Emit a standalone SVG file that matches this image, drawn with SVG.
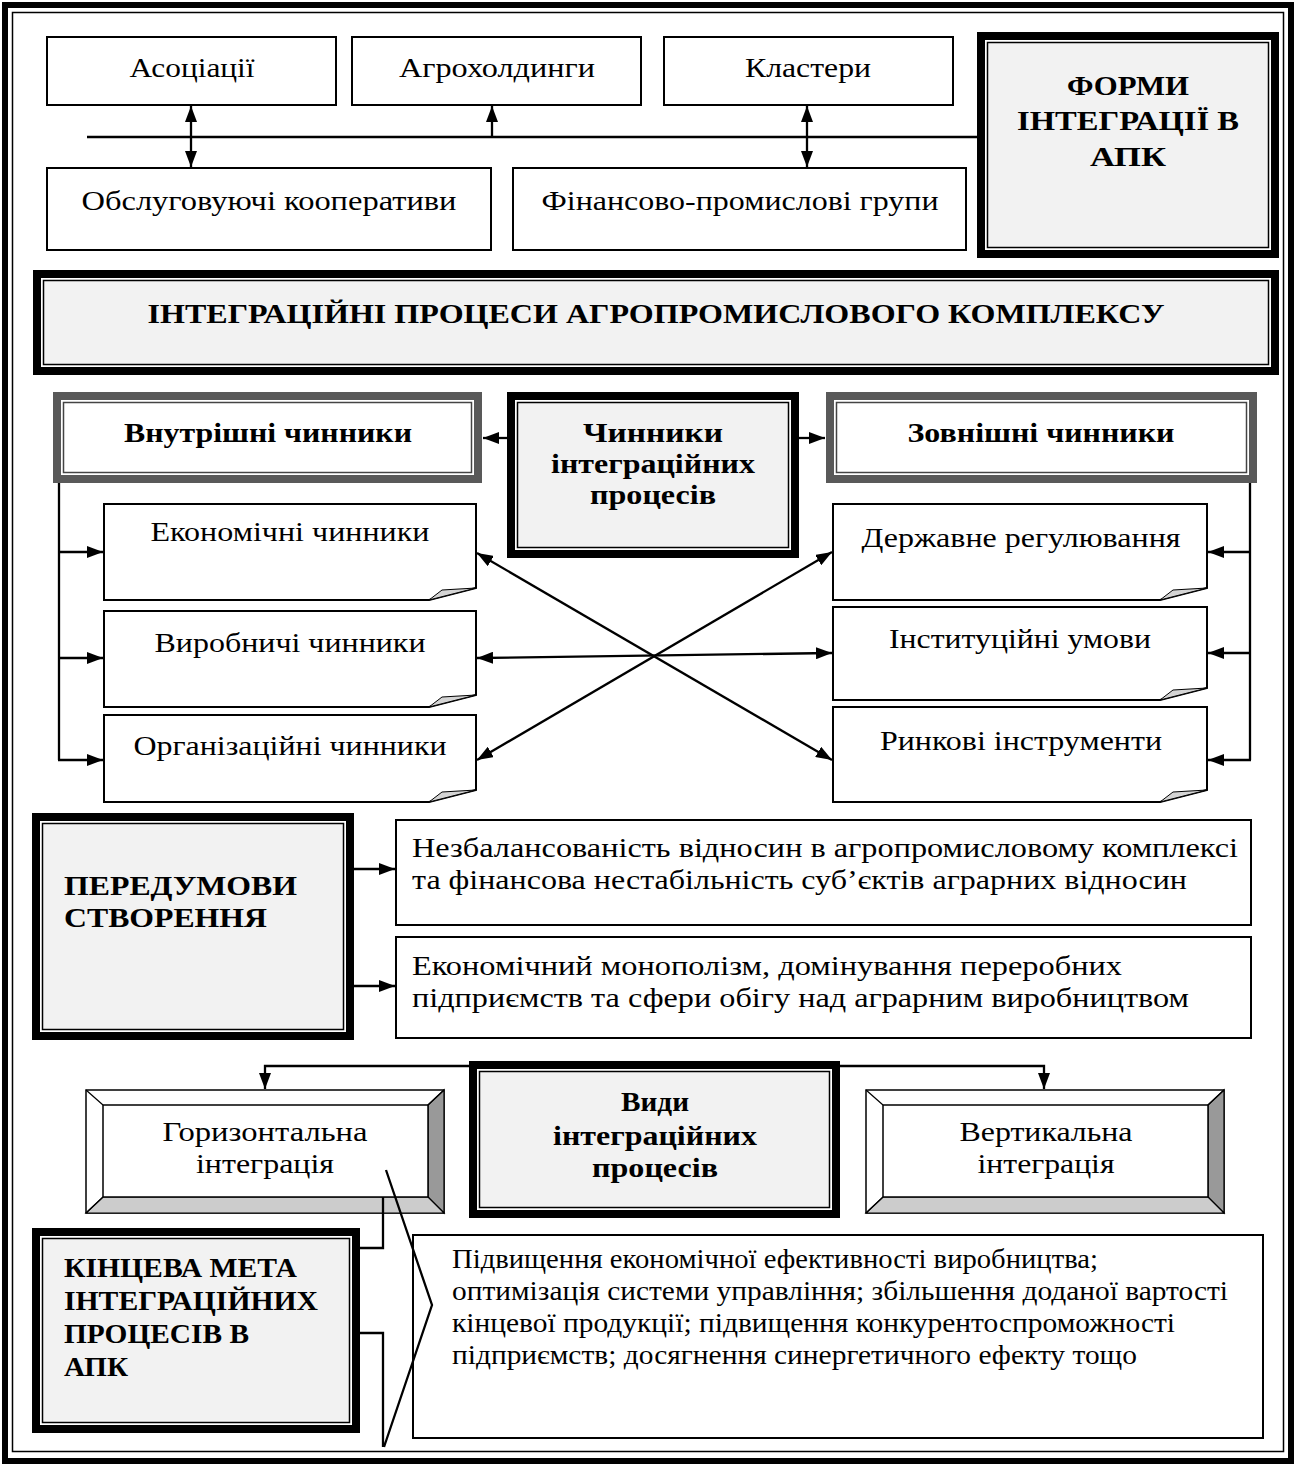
<svg xmlns="http://www.w3.org/2000/svg" width="1296" height="1468" viewBox="0 0 1296 1468">
<style>
.t{font-family:"Liberation Serif","Times New Roman",serif;font-size:28px;fill:#000}
.b{font-weight:bold;font-size:28px}
.m{text-anchor:middle}
.box{fill:#fff;stroke:#000;stroke-width:2}
.ln{fill:none;stroke:#000;stroke-width:2.3}
.fold{fill:#d4d4d4;stroke:#000;stroke-width:1}
.inner{fill:#f2f2f2;stroke:#000;stroke-width:1.5}
.gin{fill:none;stroke:#444;stroke-width:1.5}
</style>
<defs>
<marker id="ah" viewBox="0 0 16 12" refX="16" refY="6" markerWidth="16" markerHeight="12" markerUnits="userSpaceOnUse" orient="auto-start-reverse"><path d="M0,0 L16,6 L0,12 z" fill="#000"/></marker>
</defs>
<rect width="1296" height="1468" fill="#fff"/>
<g id="frame">
<rect x="5" y="5" width="1286" height="1456" fill="none" stroke="#000" stroke-width="6"/>
<rect x="12.5" y="12.5" width="1271" height="1439" fill="none" stroke="#000" stroke-width="1.5"/>
</g>

<g id="connectors">
<line class="ln" x1="87" y1="137" x2="977" y2="137"/>
<line class="ln" x1="191" y1="106" x2="191" y2="167" marker-start="url(#ah)" marker-end="url(#ah)"/>
<line class="ln" x1="492" y1="137" x2="492" y2="106" marker-end="url(#ah)"/>
<line class="ln" x1="807" y1="106" x2="807" y2="167" marker-start="url(#ah)" marker-end="url(#ah)"/>
<line class="ln" x1="507" y1="438" x2="483" y2="438" marker-end="url(#ah)"/>
<line class="ln" x1="799" y1="438" x2="825" y2="438" marker-end="url(#ah)"/>
<path class="ln" d="M59,453 V760"/>
<line class="ln" x1="58" y1="552" x2="103" y2="552" marker-end="url(#ah)"/>
<line class="ln" x1="58" y1="658" x2="103" y2="658" marker-end="url(#ah)"/>
<line class="ln" x1="58" y1="760" x2="103" y2="760" marker-end="url(#ah)"/>
<path class="ln" d="M1250,463 V760"/>
<line class="ln" x1="1251" y1="552" x2="1208" y2="552" marker-end="url(#ah)"/>
<line class="ln" x1="1251" y1="653" x2="1208" y2="653" marker-end="url(#ah)"/>
<line class="ln" x1="1251" y1="760" x2="1208" y2="760" marker-end="url(#ah)"/>
<line class="ln" x1="477" y1="553" x2="832" y2="760" marker-start="url(#ah)" marker-end="url(#ah)"/>
<line class="ln" x1="477" y1="760" x2="832" y2="552" marker-start="url(#ah)" marker-end="url(#ah)"/>
<line class="ln" x1="477" y1="658" x2="832" y2="653" marker-start="url(#ah)" marker-end="url(#ah)"/>
<line class="ln" x1="354" y1="869" x2="395" y2="869" marker-end="url(#ah)"/>
<line class="ln" x1="354" y1="986" x2="395" y2="986" marker-end="url(#ah)"/>
<path class="ln" d="M470,1066 H265 V1089" marker-end="url(#ah)"/>
<path class="ln" d="M839,1066 H1044 V1089" marker-end="url(#ah)"/>
</g>

<g id="n-asoc"><rect class="box" x="47" y="37" width="289" height="68"/><text class="t m" x="192" y="77" textLength="125" lengthAdjust="spacingAndGlyphs">Асоціації</text></g>
<g id="n-agro"><rect class="box" x="352" y="37" width="289" height="68"/><text class="t m" x="497" y="77" textLength="196" lengthAdjust="spacingAndGlyphs">Агрохолдинги</text></g>
<g id="n-klast"><rect class="box" x="664" y="37" width="289" height="68"/><text class="t m" x="808" y="77" textLength="126" lengthAdjust="spacingAndGlyphs">Кластери</text></g>
<g id="n-obsl"><rect class="box" x="47" y="168" width="444" height="82"/><text class="t m" x="269" y="210" textLength="375" lengthAdjust="spacingAndGlyphs">Обслуговуючі кооперативи</text></g>
<g id="n-fin"><rect class="box" x="513" y="168" width="453" height="82"/><text class="t m" x="740" y="210" textLength="397" lengthAdjust="spacingAndGlyphs">Фінансово-промислові групи</text></g>

<g id="n-formy">
<rect x="977" y="32" width="302" height="226" fill="#000"/>
<rect x="985" y="40" width="286" height="210" fill="#fff"/>
<rect class="inner" x="987.5" y="42.5" width="281" height="205"/>
<text class="t b m" x="1128" y="95" textLength="122" lengthAdjust="spacingAndGlyphs">ФОРМИ</text>
<text class="t b m" x="1128" y="130" textLength="222" lengthAdjust="spacingAndGlyphs">ІНТЕГРАЦІЇ В</text>
<text class="t b m" x="1128" y="166" textLength="76" lengthAdjust="spacingAndGlyphs">АПК</text>
</g>

<g id="n-title">
<rect x="33" y="270" width="1246" height="105" fill="#000"/>
<rect x="41" y="278" width="1230" height="89" fill="#fff"/>
<rect class="inner" x="43.5" y="280.5" width="1225" height="84"/>
<text class="t b m" x="656" y="323" textLength="1017" lengthAdjust="spacingAndGlyphs">ІНТЕГРАЦІЙНІ ПРОЦЕСИ АГРОПРОМИСЛОВОГО КОМПЛЕКСУ</text>
</g>

<g id="n-vnutr">
<rect x="53" y="392" width="429" height="91" fill="#595959"/>
<rect x="61" y="400" width="413" height="75" fill="#fff"/>
<rect class="gin" x="63.5" y="402.5" width="408" height="70"/>
<text class="t b m" x="268" y="442" textLength="288" lengthAdjust="spacingAndGlyphs">Внутрішні чинники</text>
</g>

<g id="n-chynnyky">
<rect x="507" y="392" width="292" height="166" fill="#000"/>
<rect x="515" y="400" width="276" height="150" fill="#fff"/>
<rect class="inner" x="517.5" y="402.5" width="271" height="145"/>
<text class="t b m" x="653" y="442" textLength="140" lengthAdjust="spacingAndGlyphs">Чинники</text>
<text class="t b m" x="653" y="473" textLength="204" lengthAdjust="spacingAndGlyphs">інтеграційних</text>
<text class="t b m" x="653" y="504" textLength="126" lengthAdjust="spacingAndGlyphs">процесів</text>
</g>

<g id="n-zovn">
<rect x="826" y="392" width="431" height="91" fill="#595959"/>
<rect x="834" y="400" width="415" height="75" fill="#fff"/>
<rect class="gin" x="836.5" y="402.5" width="410" height="70"/>
<text class="t b m" x="1041" y="442" textLength="267" lengthAdjust="spacingAndGlyphs">Зовнішні чинники</text>
</g>

<g id="n-ekon">
<path class="box" d="M104,504 H476 V588 L429,600 H104 Z"/><path class="fold" d="M429,600 L476,588 L442,590 Z"/>
<text class="t m" x="290" y="541" textLength="279" lengthAdjust="spacingAndGlyphs">Економічні чинники</text>
</g>
<g id="n-vyrob">
<path class="box" d="M104,611 H476 V695 L429,707 H104 Z"/><path class="fold" d="M429,707 L476,695 L442,697 Z"/>
<text class="t m" x="290" y="652" textLength="271" lengthAdjust="spacingAndGlyphs">Виробничі чинники</text>
</g>
<g id="n-org">
<path class="box" d="M104,715 H476 V790 L429,802 H104 Z"/><path class="fold" d="M429,802 L476,790 L442,792 Z"/>
<text class="t m" x="290" y="755" textLength="313" lengthAdjust="spacingAndGlyphs">Організаційні чинники</text>
</g>
<g id="n-derzh">
<path class="box" d="M833,504 H1207 V588 L1160,600 H833 Z"/><path class="fold" d="M1160,600 L1207,588 L1173,590 Z"/>
<text class="t m" x="1021" y="547" textLength="319" lengthAdjust="spacingAndGlyphs">Державне регулювання</text>
</g>
<g id="n-inst">
<path class="box" d="M833,607 H1207 V688 L1160,700 H833 Z"/><path class="fold" d="M1160,700 L1207,688 L1173,690 Z"/>
<text class="t m" x="1020" y="648" textLength="262" lengthAdjust="spacingAndGlyphs">Інституційні умови</text>
</g>
<g id="n-rynk">
<path class="box" d="M833,707 H1207 V790 L1160,802 H833 Z"/><path class="fold" d="M1160,802 L1207,790 L1173,792 Z"/>
<text class="t m" x="1021" y="750" textLength="282" lengthAdjust="spacingAndGlyphs">Ринкові інструменти</text>
</g>

<g id="n-pered">
<rect x="32" y="813" width="322" height="227" fill="#000"/>
<rect x="40" y="821" width="306" height="211" fill="#fff"/>
<rect class="inner" x="42.5" y="823.5" width="301" height="206"/>
<text class="t b" x="64" y="895" textLength="233" lengthAdjust="spacingAndGlyphs">ПЕРЕДУМОВИ</text>
<text class="t b" x="64" y="927" textLength="203" lengthAdjust="spacingAndGlyphs">СТВОРЕННЯ</text>
</g>
<g id="n-nezb">
<rect class="box" x="396" y="820" width="855" height="105"/>
<text class="t" x="412" y="857" textLength="826" lengthAdjust="spacingAndGlyphs">Незбалансованість відносин в агропромисловому комплексі</text>
<text class="t" x="412" y="889" textLength="775" lengthAdjust="spacingAndGlyphs">та фінансова нестабільність суб’єктів аграрних відносин</text>
</g>
<g id="n-monop">
<rect class="box" x="396" y="937" width="855" height="101"/>
<text class="t" x="412" y="975" textLength="710" lengthAdjust="spacingAndGlyphs">Економічний монополізм, домінування переробних</text>
<text class="t" x="412" y="1007" textLength="777" lengthAdjust="spacingAndGlyphs">підприємств та сфери обігу над аграрним виробництвом</text>
</g>

<g id="n-vydy">
<rect x="469" y="1061" width="371" height="157" fill="#000"/>
<rect x="477" y="1069" width="355" height="141" fill="#fff"/>
<rect class="inner" x="479.5" y="1071.5" width="350" height="136"/>
<text class="t b m" x="655" y="1111" textLength="68" lengthAdjust="spacingAndGlyphs">Види</text>
<text class="t b m" x="655" y="1145" textLength="204" lengthAdjust="spacingAndGlyphs">інтеграційних</text>
<text class="t b m" x="655" y="1177" textLength="126" lengthAdjust="spacingAndGlyphs">процесів</text>
</g>

<g id="n-horiz">
<rect x="86" y="1090" width="358" height="123" fill="#fff" stroke="#000" stroke-width="1.5"/>
<path d="M428,1105 L444,1090 V1213 L428,1197 Z" fill="#999" stroke="#000" stroke-width="1.2"/>
<path d="M103,1197 H428 L444,1213 H86 Z" fill="#ccc" stroke="#000" stroke-width="1.2"/>
<path d="M86,1090 L103,1105 M444,1090 L428,1105 M86,1213 L103,1197" stroke="#000" stroke-width="1.2"/>
<rect x="103" y="1105" width="325" height="92" fill="#fff" stroke="#000" stroke-width="1.5"/>
<text class="t m" x="265" y="1141" textLength="205" lengthAdjust="spacingAndGlyphs">Горизонтальна</text>
<text class="t m" x="265" y="1173" textLength="138" lengthAdjust="spacingAndGlyphs">інтеграція</text>
</g>
<g id="n-vert">
<rect x="866" y="1090" width="358" height="123" fill="#fff" stroke="#000" stroke-width="1.5"/>
<path d="M1208,1105 L1224,1090 V1213 L1208,1197 Z" fill="#999" stroke="#000" stroke-width="1.2"/>
<path d="M883,1197 H1208 L1224,1213 H866 Z" fill="#ccc" stroke="#000" stroke-width="1.2"/>
<path d="M866,1090 L883,1105 M1224,1090 L1208,1105 M866,1213 L883,1197" stroke="#000" stroke-width="1.2"/>
<rect x="883" y="1105" width="325" height="92" fill="#fff" stroke="#000" stroke-width="1.5"/>
<text class="t m" x="1046" y="1141" textLength="173" lengthAdjust="spacingAndGlyphs">Вертикальна</text>
<text class="t m" x="1046" y="1173" textLength="137" lengthAdjust="spacingAndGlyphs">інтеграція</text>
</g>

<g id="n-pidv">
<rect class="box" x="413" y="1235" width="850" height="203"/>
<text class="t" x="452" y="1268" textLength="646" lengthAdjust="spacingAndGlyphs">Підвищення економічної ефективності виробництва;</text>
<text class="t" x="452" y="1300" textLength="776" lengthAdjust="spacingAndGlyphs">оптимізація системи управління; збільшення доданої вартості</text>
<text class="t" x="452" y="1332" textLength="723" lengthAdjust="spacingAndGlyphs">кінцевої продукції; підвищення конкурентоспроможності</text>
<text class="t" x="452" y="1364" textLength="685" lengthAdjust="spacingAndGlyphs">підприємств; досягнення синергетичного ефекту тощо</text>
</g>

<g id="n-callout">
<path d="M386,1170 L432,1305 L384,1447 M383,1197 V1248 H358 M358,1333 H383 V1447" fill="none" stroke="#000" stroke-width="2.3"/>
</g>

<g id="n-kinc">
<rect x="32" y="1228" width="328" height="205" fill="#000"/>
<rect x="40" y="1236" width="312" height="189" fill="#fff"/>
<rect class="inner" x="42.5" y="1238.5" width="307" height="184"/>
<text class="t b" x="64" y="1277" textLength="233" lengthAdjust="spacingAndGlyphs">КІНЦЕВА МЕТА</text>
<text class="t b" x="64" y="1310" textLength="254" lengthAdjust="spacingAndGlyphs">ІНТЕГРАЦІЙНИХ</text>
<text class="t b" x="64" y="1343" textLength="185" lengthAdjust="spacingAndGlyphs">ПРОЦЕСІВ В</text>
<text class="t b" x="64" y="1376" textLength="64" lengthAdjust="spacingAndGlyphs">АПК</text>
</g>
</svg>
